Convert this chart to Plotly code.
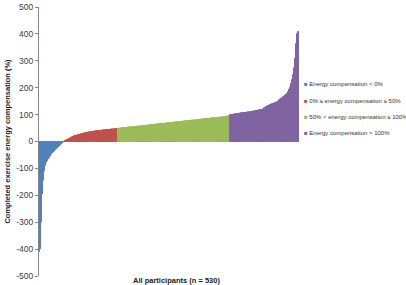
import plotly.graph_objects as go

# Completed exercise energy compensation (%) per participant, sorted ascending
neg_values = [-410, -408, -400, -385, -300, -220, -195, -170, -145, -125,
              -110, -100, -90, -82, -78, -75, -72, -70, -66, -63,
              -60, -57, -54, -51, -48, -46, -44, -42, -40, -38,
              -36, -34, -32, -30, -28, -26, -24, -23, -21, -20,
              -18, -17, -15, -14, -12, -10, -8, -6, -3]

low_values = [0.5, 1.5, 2.5, 3.5, 5, 6, 7, 8, 9, 10, 11, 12, 13, 14, 15, 16, 17, 18, 19, 19.5,
              20.5, 21, 22, 23, 23.5,
              24, 24.5, 25, 25.5, 26, 26.5, 27, 27.5, 28, 28.5, 29, 29.5, 30, 30.5, 31, 31.5,
              32, 32.5, 33, 33.5, 34, 34.5, 35, 35.5, 36, 36.3,
              36.6, 36.9, 37.2, 37.5, 37.8, 38, 38.3, 38.6, 38.9, 39.2, 39.5, 39.7, 40, 40.2,
              40.5, 40.7, 41, 41.2, 41.5, 41.7, 42, 42.2, 42.4, 42.6, 42.8, 43, 43.2, 43.4,
              43.6, 43.8, 44, 44.2, 44.4, 44.6, 44.8, 45, 45.2, 45.4, 45.6, 45.8, 46, 46.2,
              46.4, 46.6, 46.8, 47, 47.2, 47.4, 47.6, 47.8, 48, 48.2, 48.4, 48.6, 48.8, 49,
              49.3, 49.6, 49.9]

mid_values = [50.2, 50.4, 50.6, 50.8, 51.0, 51.2, 51.4, 51.6, 51.8, 52.0,
              52.2, 52.4, 52.6, 52.8, 53.0, 53.2, 53.4, 53.6, 53.8, 54.0,
              54.2, 54.4, 54.6, 54.8, 55.0, 55.2, 55.4, 55.6, 55.8, 56.0,
              56.2, 56.4, 56.6, 56.8, 57.0, 57.2, 57.4, 57.6, 57.8, 58.0,
              58.2, 58.4, 58.6, 58.8, 59.0, 59.2, 59.4, 59.6, 59.8, 60.0,
              60.2, 60.4, 60.6, 60.8, 61.0, 61.2, 61.4, 61.6, 61.8, 62.0,
              62.2, 62.4, 62.6, 62.8, 63.0, 63.2, 63.4, 63.6, 63.8, 64.0,
              64.2, 64.4, 64.6, 64.8, 65.0, 65.2, 65.4, 65.6, 65.8, 66.0,
              66.2, 66.4, 66.6, 66.8, 67.0, 67.2, 67.4, 67.6, 67.8, 68.0,
              68.2, 68.4, 68.6, 68.8, 69.0, 69.2, 69.4, 69.6, 69.8, 70.0,
              70.2, 70.4, 70.6, 70.8, 71.0, 71.2, 71.4, 71.6, 71.8, 72.0,
              72.2, 72.4, 72.6, 72.8, 73.0, 73.2, 73.4, 73.6, 73.8, 74.0,
              74.2, 74.4, 74.6, 74.8, 75.0, 75.2, 75.4, 75.6, 75.8, 76.0,
              76.2, 76.4, 76.6, 76.8, 77.0, 77.2, 77.4, 77.6, 77.8, 78.0,
              78.2, 78.4, 78.6, 78.8, 79.0, 79.2, 79.4, 79.6, 79.8, 80.0,
              80.2, 80.4, 80.6, 80.8, 81.0, 81.2, 81.4, 81.6, 81.8, 82.0,
              82.2, 82.4, 82.6, 82.8, 83.0, 83.2, 83.4, 83.6, 83.8, 84.0,
              84.2, 84.4, 84.6, 84.8, 85.0, 85.2, 85.4, 85.6, 85.8, 86.0,
              86.2, 86.4, 86.6, 86.8, 87.0, 87.2, 87.4, 87.6, 87.8, 88.0,
              88.2, 88.4, 88.6, 88.8, 89.0, 89.2, 89.4, 89.6, 89.8, 90.0,
              90.2, 90.4, 90.6, 90.8, 91.0, 91.2, 91.4, 91.6, 91.8, 92.0,
              92.2, 92.4, 92.6, 92.8, 93.0, 93.2, 93.4, 93.6, 93.8, 94.0,
              94.4, 94.8, 95.2, 95.6, 96.0, 96.5, 97.0, 97.5, 98.2]

high_values = [100.5, 100.8, 101.1, 101.4, 101.7, 102, 102.3, 102.6, 102.9, 103.2,
               103.5, 103.8, 104.1, 104.4, 104.7, 105, 105.3, 105.6, 105.9, 106.2,
               106.5, 106.8, 107.1, 107.4, 107.7, 108,
               108.3, 108.6, 108.8, 109.1, 109.3, 109.6, 109.8, 110.1, 110.3, 110.6,
               110.8, 111.1, 111.3, 111.6, 111.8, 112.1, 112.3, 112.6, 112.8, 113.1,
               113.4, 113.7, 114, 114.3, 114.6, 115,
               115.4, 115.8, 116.2, 116.6, 117, 117.4, 117.8, 118.2, 118.6, 119,
               119.4, 119.8, 120.2, 120.6, 121, 121.4, 121.8, 122.2,
               126, 127, 128, 129.5, 131, 132, 133, 134, 135, 136, 137,
               137.8, 138.5, 139.2, 140, 140.8, 141.5, 142.2, 143, 143.8, 144.5,
               145.2, 146, 146.7, 147.4, 148.2, 149,
               150.4, 151.8, 153.2, 154.6, 156, 157.4, 158.8, 160.2, 161.6, 163,
               164.5, 166, 167.5, 169, 170.5, 172, 173.5, 175, 176.5, 178, 179.5,
               183, 187, 191, 195, 199, 203,
               210, 217, 224, 231, 238,
               250, 262, 275, 288,
               310, 335, 365,
               392, 402, 408, 410, 410, 410]

group_names = ["Energy compensation < 0%",
               "0% ≤ energy compensation ≤ 50%",
               "50% < energy compensation ≤ 100%",
               "Energy compensation > 100%"]
group_values = [neg_values, low_values, mid_values, high_values]
group_colors = ["#4F81BD", "#C0504D", "#9BBB59", "#8064A2"]

y_ticks = [500, 400, 300, 200, 100, 0, -100, -200, -300, -400, -500]
y_ticktext = ["500", "400", "300", "200", "100", "0", "-100", "-200", "-300", "-400", "-500"]

fig = go.Figure()
start = 0
for name, vals, col in zip(group_names, group_values, group_colors):
    xs = list(range(start, start + len(vals)))
    start += len(vals)
    fig.add_trace(go.Bar(x=xs, y=vals, marker=dict(color=col, line=dict(width=0)),
                         name=name, showlegend=False))

n_total = start

# legend drawn as text entries (compact, like the original)
legend_y = [0.712, 0.650, 0.592, 0.532]
annotations = []
for name, col, ly in zip(group_names, group_colors, legend_y):
    annotations.append(dict(
        text=f"<span style='color:{col}'>■</span> {name}",
        xref="paper", yref="paper", x=1.01, y=ly, xanchor="left", yanchor="middle",
        showarrow=False, font=dict(size=6, color="#333333")))

annotations.append(dict(text="<b>All participants (n = 530)</b>", xref="paper", yref="paper",
                        x=0.527, y=0, xanchor="center", yanchor="middle", yshift=-4,
                        showarrow=False, font=dict(size=7.5, color="#222222")))

fig.update_layout(
    width=406, height=285,
    margin=dict(l=39, r=107, t=7, b=9),
    paper_bgcolor="white", plot_bgcolor="white",
    barmode="relative", bargap=0.4,
    font=dict(family="Liberation Sans, Arial, sans-serif", color="#404040"),
    showlegend=False,
    xaxis=dict(range=[-0.5, n_total - 0.5], showticklabels=False, showgrid=False,
               zeroline=False, showline=False, ticks="", automargin=False),
    yaxis=dict(range=[-500, 500], tickvals=y_ticks, ticktext=y_ticktext,
               ticks="outside", ticklen=3, automargin=False,
               tickcolor="#868686", showline=True, linecolor="#868686", linewidth=1,
               showgrid=False, zeroline=True, zerolinecolor="#868686", zerolinewidth=1,
               tickfont=dict(size=8.5, color="#404040"),
               title=dict(text="<b>Completed exercise energy compensation (%)</b>",
                          font=dict(size=7.5, color="#222222"), standoff=4)),
    annotations=annotations,
)

fig.write_html("out.html", config={"displayModeBar": False},
               post_script="document.body.style.margin='0';")
